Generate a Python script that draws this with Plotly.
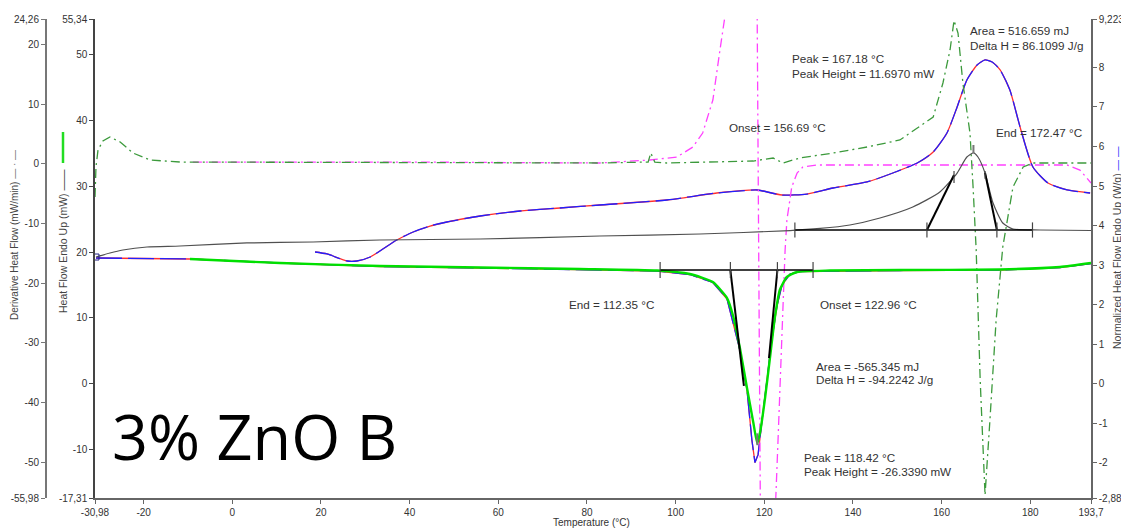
import plotly.graph_objects as go

# ---------------- data ----------------
# Heating heat flow (mW) - black
heat_T = [-30.76, -27.6, -24.7, -19.25, -11.8, 3.3, 18.2, 33.3, 55.9, 82.9, 105.5, 125.8, 132.6, 139.3,
          146.1, 153.5, 159.6, 163.5, 165.7, 167.18, 168.2, 169.8, 171.6, 173.8, 176.1, 182.2, 193.7]
heat_hf = [19.24, 19.85, 20.30, 20.76, 20.91, 21.37, 21.52, 21.82, 21.97, 22.43, 22.73, 23.25, 23.57, 24.10,
           25.16, 26.83, 29.10, 31.98, 34.41, 35.02, 34.41, 31.98, 27.43, 24.40, 23.49, 23.34, 23.26]

# Heating normalized heat flow (W/g) - blue/red
heatN_T = [18.65, 21.35, 25.9, 28.1, 31.1, 37.1, 40.8, 44.6, 48.4, 55.9, 64.9, 73.9, 82.9, 98.0, 109.3,
           118.4, 119.7, 124.0, 129.6, 135.5, 143.2, 149.0, 154.5, 158.1, 161.2, 163.5, 165.7, 168.0,
           169.8, 171.4, 173.2, 175.4, 177.7, 180.6, 184.0, 188.3, 193.5]
heatN = [3.333, 3.283, 3.106, 3.106, 3.207, 3.637, 3.839, 3.990, 4.092, 4.243, 4.370, 4.446, 4.521, 4.648,
         4.825, 4.901, 4.875, 4.774, 4.799, 4.951, 5.103, 5.330, 5.583, 5.861, 6.341, 6.998, 7.681, 8.060,
         8.187, 8.136, 7.934, 7.428, 6.493, 5.482, 5.077, 4.901, 4.825]

# Cooling heat flow (mW) - green
cool_T = [-9.55, 10.75, 33.3, 55.9, 78.4, 95.8, 103.2, 108.4, 111.6, 112.9, 114.5, 116.1, 117.5, 118.42,
          119.1, 120.2, 121.3, 122.4, 123.5, 125.1, 127.4, 134.8, 150.6, 173.2, 186.7, 193.7]
cool_hf = [18.94, 18.33, 17.88, 17.65, 17.42, 17.19, 16.66, 15.45, 13.02, 10.45, 5.44, -0.63, -5.78, -9.04,
           -7.15, -2.0, 4.07, 10.14, 14.24, 16.21, 16.97, 17.19, 17.27, 17.35, 17.73, 18.33]

# Cooling normalized heat flow (W/g) - blue/red
coolN_T = [-30.76, -20.8, -9.55, 10.75, 33.3, 55.9, 78.4, 95.8, 103.2, 108.4, 111.6, 114.5, 116.1, 117.2,
           117.9, 118.6, 119.5, 120.6, 121.7, 122.9, 124.0, 125.8, 128.1, 150.6, 173.2, 186.7, 193.7]
coolN = [3.182, 3.169, 3.156, 3.055, 2.967, 2.929, 2.891, 2.853, 2.765, 2.562, 2.145, 0.856, -0.155, -1.419,
         -1.99, -1.79, -0.913, 0.098, 1.109, 1.994, 2.499, 2.777, 2.84, 2.866, 2.878, 2.941, 3.042]

# Derivative heat flow, heating (mW/min) - green dash-dot
dheat_T = [-30.98, -30.76, -30.3, -29.2, -27.6, -25.3, -22.4, -18.6, -11.8, 15.3, 55.9, 82.9, 93.8, 94.4,
           95.3, 98.0, 117.5, 122.0, 124.2, 128.0, 135.5, 143.2, 150.6, 154.4, 158.1, 160.3, 161.9, 162.8,
           163.7, 164.8, 166.4, 167.1, 167.8, 168.7, 169.8, 170.9, 172.3, 173.8, 176.1, 178.4, 180.6, 193.7]
dheat = [-5.56, -0.53, 2.32, 3.82, 4.49, 3.66, 1.81, 0.64, 0.30, 0.22, 0.14, 0.14, 0.30, 1.81,
         0.30, 0.14, 0.47, 0.97, 0.14, 0.97, 1.81, 2.82, 3.99, 6.0, 7.84, 13.54, 19.07, 24.0,
         21.91, 13.54, 5.16, -3.88, -14.44, -36.22, -55.48, -42.92, -26.16, -13.93, -3.88, -0.53, 0.14, 0.14]

# Derivative heat flow, cooling (mW/min) - magenta dash-dot
dcool_T = [-8.9, 37.8, 82.9, 94.2, 100.3, 103.9, 106.1, 108.4, 110.0, 111.1, 112.5, 117.0, 118.4, 119.1,
           120.5, 122.4, 123.1, 124.0, 124.7, 125.1, 126.2, 127.4, 128.7, 131.9, 188.3, 191.2, 193.7]
dcool = [0.30, 0.30, 0.14, 0.64, 1.14, 2.82, 5.16, 10.69, 19.07, 24.6, 60.0, 120.0, 24.3, -56.0,
         -120.0, -59.7, -46.3, -27.8, -14.4, -9.41, -3.88, -1.54, -0.53, -0.20, -0.20, -1.04, -3.21]

# Peak analysis (heating)
heat_onset, heat_peak, heat_end = 156.69, 167.18, 172.47
heat_base_T = [126.9, 180.5]
heat_base_hf = 23.34
heat_tan_left_T, heat_tan_left_hf = [156.69, 162.8], [23.34, 31.68]
heat_tan_right_T, heat_tan_right_hf = [169.8, 172.47], [32.0, 23.34]
heat_peak_hf = [35.02, 36.23]

# Peak analysis (cooling)
cool_end, cool_peak, cool_onset = 112.35, 118.42, 122.96
cool_base_T = [96.5, 131.0]
cool_base_hf = 17.27
cool_tan_left_T, cool_tan_left_hf = [112.35, 115.4], [17.27, -0.32]
cool_tan_right_T, cool_tan_right_hf = [122.96, 121.06], [17.27, 3.92]
cool_peak_hf = [-7.5, -9.3]

# Axis ticks
x_ticks = [-30.98, -20, 0, 20, 40, 60, 80, 100, 120, 140, 160, 180, 193.7]
x_text = ["-30,98", "-20", "0", "20", "40", "60", "80", "100", "120", "140", "160", "180", "193,7"]
hf_ticks = [-17.31, -10, 0, 10, 20, 30, 40, 50, 55.34]
hf_text = ["-17,31", "-10", "0", "10", "20", "30", "40", "50", "55,34"]
d_ticks = [-55.98, -50, -40, -30, -20, -10, 0, 10, 20, 24.26]
d_text = ["-55,98", "-50", "-40", "-30", "-20", "-10", "0", "10", "20", "24,26"]
n_ticks = [-2.885, -2, -1, 0, 1, 2, 3, 4, 5, 6, 7, 8, 9.223]
n_text = ["-2,885", "-2", "-1", "0", "1", "2", "3", "4", "5", "6", "7", "8", "9,223"]

# ---------------- figure ----------------
# page body has an 8px default margin: work in window pixels and shift
OFF = 8
W, H = 1129, 529
PL, PR, PT, PB = 95, 1091, 19, 498          # plot area in window pixels
ML, MR, MT, MB = 0, W - (PR - OFF), PT - OFF, H - (PB - OFF)
PW, PH = W - ML - MR, H - MT - MB


def xp(px):
    return (px - OFF) / PW


def yp(py):
    return (PB - py) / PH


fig = go.Figure()
FONT = "Liberation Sans, Arial, sans-serif"

# normalized (base axis 'y', drawn first)
fig.add_trace(go.Scatter(x=heatN_T, y=heatN, mode="lines", line=dict(color="#ff3030", width=1.3, shape="spline", smoothing=0.6), yaxis="y"))
fig.add_trace(go.Scatter(x=heatN_T, y=heatN, mode="lines", line=dict(color="#2020ff", width=1.3, dash="26px,6px", shape="spline", smoothing=0.6), yaxis="y"))
fig.add_trace(go.Scatter(x=coolN_T, y=coolN, mode="lines", line=dict(color="#ff3030", width=1.3), yaxis="y"))
fig.add_trace(go.Scatter(x=coolN_T, y=coolN, mode="lines", line=dict(color="#2020ff", width=1.3, dash="26px,6px"), yaxis="y"))

# derivative (y2)
fig.add_trace(go.Scatter(x=dcool_T, y=dcool, mode="lines", line=dict(color="#ff40ff", width=1.3, dash="9px,4px,2px,4px"), yaxis="y2"))
fig.add_trace(go.Scatter(x=dheat_T, y=dheat, mode="lines", line=dict(color="#3c9a3c", width=1.3, dash="9px,4px,2px,4px"), yaxis="y2"))

# heat flow (y3, on top)
fig.add_trace(go.Scatter(x=heat_T, y=heat_hf, mode="lines", line=dict(color="#505050", width=1.2, shape="spline", smoothing=0.6), yaxis="y3"))
fig.add_trace(go.Scatter(x=cool_T, y=cool_hf, mode="lines", line=dict(color="#00e000", width=2.4, shape="spline", smoothing=0.5), yaxis="y3"))
fig.add_trace(go.Scatter(x=[heat_T[0]], y=[heat_hf[0]], mode="markers", marker=dict(symbol="square-open", size=6, color="#202080"), yaxis="y3"))

blk = dict(color="black", width=1.6)
tk = dict(color="#444", width=1.2)
# heating analysis lines
fig.add_trace(go.Scatter(x=heat_base_T, y=[heat_base_hf] * 2, mode="lines", line=blk, yaxis="y3"))
fig.add_trace(go.Scatter(x=heat_tan_left_T, y=heat_tan_left_hf, mode="lines", line=dict(color="black", width=2), yaxis="y3"))
fig.add_trace(go.Scatter(x=heat_tan_right_T, y=heat_tan_right_hf, mode="lines", line=dict(color="black", width=2), yaxis="y3"))
for t in [heat_base_T[0], heat_onset, heat_end, heat_base_T[1]]:
    fig.add_trace(go.Scatter(x=[t, t], y=[heat_base_hf - 1.15, heat_base_hf + 1.15], mode="lines", line=tk, yaxis="y3"))
fig.add_trace(go.Scatter(x=[heat_tan_left_T[1]] * 2, y=[heat_tan_left_hf[1] - 1.2, heat_tan_left_hf[1] + 0.6], mode="lines", line=tk, yaxis="y3"))
fig.add_trace(go.Scatter(x=[heat_tan_right_T[0]] * 2, y=[heat_tan_right_hf[0] - 0.9, heat_tan_right_hf[0] + 0.3], mode="lines", line=tk, yaxis="y3"))
fig.add_trace(go.Scatter(x=[heat_peak] * 2, y=heat_peak_hf, mode="lines", line=dict(color="#777", width=2), yaxis="y3"))

# cooling analysis lines
fig.add_trace(go.Scatter(x=cool_base_T, y=[cool_base_hf] * 2, mode="lines", line=blk, yaxis="y3"))
fig.add_trace(go.Scatter(x=cool_tan_left_T, y=cool_tan_left_hf, mode="lines", line=dict(color="black", width=2), yaxis="y3"))
fig.add_trace(go.Scatter(x=cool_tan_right_T, y=cool_tan_right_hf, mode="lines", line=dict(color="black", width=2), yaxis="y3"))
for t in [cool_base_T[0], cool_end, cool_onset, cool_base_T[1]]:
    fig.add_trace(go.Scatter(x=[t, t], y=[cool_base_hf - 1.2, cool_base_hf + 1.2], mode="lines", line=tk, yaxis="y3"))
fig.add_trace(go.Scatter(x=[cool_peak] * 2, y=cool_peak_hf, mode="lines", line=dict(color="#777", width=2), yaxis="y3"))

tickfont = dict(family=FONT, size=10, color="#333")
axcommon = dict(showgrid=False, zeroline=False, showline=True, ticks="outside", ticklen=4,
                tickfont=tickfont, tickmode="array", fixedrange=True, automargin=False)

fig.update_layout(
    width=W, height=H, margin=dict(l=ML, r=MR, t=MT, b=MB, pad=0, autoexpand=False),
    paper_bgcolor="white", plot_bgcolor="white", showlegend=False, hovermode=False,
    xaxis=dict(domain=[xp(PL), 1], range=[-30.98, 193.7], tickvals=x_ticks, ticktext=x_text,
               linecolor="#666", tickcolor="#666", linewidth=1.5, anchor="y", **axcommon),
    yaxis=dict(range=[-2.885, 9.223], tickvals=n_ticks, ticktext=n_text, side="right", anchor="x",
               linecolor="#666", tickcolor="#666", linewidth=1.5, **axcommon),
    yaxis2=dict(range=[-55.98, 24.26], tickvals=d_ticks, ticktext=d_text, side="left", anchor="free",
                overlaying="y", position=xp(46), linecolor="#777", tickcolor="#777", linewidth=2, **axcommon),
    yaxis3=dict(range=[-17.31, 55.34], tickvals=hf_ticks, ticktext=hf_text, side="left", anchor="x",
                overlaying="y", linecolor="#444", tickcolor="#444", linewidth=1.5, **axcommon),
)

afont = dict(family=FONT, size=11.7, color="#333")
labels = [
    ("Peak = 167.18 °C", 790, 58), ("Peak Height = 11.6970 mW", 790, 73),
    ("Area = 516.659 mJ", 968, 30), ("Delta H = 86.1099 J/g", 968, 45),
    ("Onset = 156.69 °C", 727, 128), ("End = 172.47 °C", 994, 133),
    ("End = 112.35 °C", 567, 304), ("Onset = 122.96 °C", 818, 304),
    ("Area = -565.345 mJ", 814, 366), ("Delta H = -94.2242 J/g", 814, 379),
    ("Peak = 118.42 °C", 802, 457), ("Peak Height = -26.3390 mW", 802, 471),
]
for txt, px, py in labels:
    fig.add_annotation(text=txt, x=xp(px), y=yp(py), xref="paper", yref="paper",
                       xanchor="left", yanchor="middle", showarrow=False, font=afont)

tfont = dict(family=FONT, size=10.5, color="#444")
ctr = dict(xref="paper", yref="paper", xanchor="center", yanchor="middle", showarrow=False)
fig.add_annotation(text="Derivative Heat Flow (mW/min) <span style='color:#777'>— · —</span>", x=xp(15), y=yp(235),
                   textangle=-90, font=dict(family=FONT, size=10, color="#444"), **ctr)
fig.add_annotation(text="Heat Flow Endo Up (mW) <span style='color:#333'>——</span>", x=xp(63), y=yp(241),
                   textangle=-90, font=tfont, **ctr)
fig.add_annotation(text="Normalized Heat Flow Endo Up (W/g) <span style='color:#3030ff'>— —</span>", x=xp(1117), y=yp(248),
                   textangle=-90, font=tfont, **ctr)
fig.add_annotation(text="Temperature (°C)", x=xp(591), y=yp(522), font=dict(family=FONT, size=10, color="#333"), **ctr)
fig.add_annotation(text="3% ZnO B", x=xp(110), y=yp(435), xref="paper", yref="paper", xanchor="left",
                   yanchor="middle", showarrow=False, font=dict(family="Open Sans, sans-serif", size=63, color="black"))

fig.add_shape(type="line", xref="paper", yref="paper", x0=xp(63), x1=xp(63), y0=yp(132), y1=yp(163),
              line=dict(color="#22dd22", width=2.5))

fig.write_html("out.html")
